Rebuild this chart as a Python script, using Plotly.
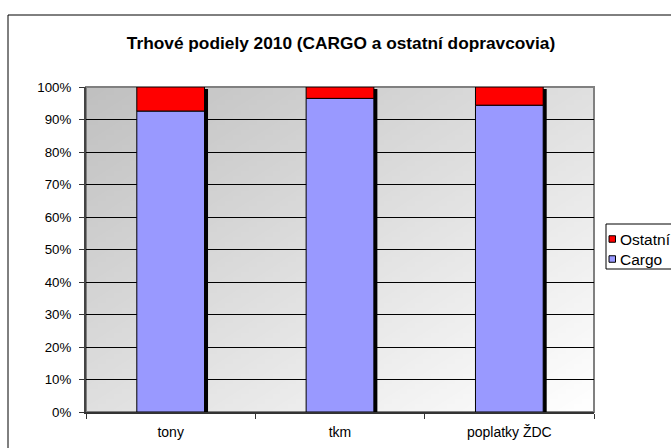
import zlib, struct, base64
import plotly.graph_objects as go

categories = ["tony", "tkm", "poplatky ŽDC"]
cargo = [92.6, 96.5, 94.4]
ostatni = [7.4, 3.5, 5.6]
series_names = ["Cargo", "Ostatní"]
series_colors = ["#9999FF", "#FF0000"]
title_text = "Trhové podiely 2010 (CARGO a ostatní dopravcovia)"
y_ticks = [0, 10, 20, 30, 40, 50, 60, 70, 80, 90, 100]
y_tick_labels = [f"{v}%" for v in y_ticks]

W, H = 671, 448
ML, MR, MT, MB = 86, 77, 87, 36
PW = W - ML - MR
PH = H - MT - MB
BAR_W = 0.40
cat_px = PW / len(categories)
shadow_dx = 3.5 / cat_px
shadow_dy = 2 / (PH / 100)
FONT = "Liberation Sans, Arial, sans-serif"


def px_x(px):
    return (px - ML) / PW


def px_y(py):
    return (MT + PH - py) / PH


def gradient_png(w=64, h=64, c0=192, c1=255):
    raw = bytearray()
    for j in range(h):
        raw.append(0)
        for i in range(w):
            t = (i / (w - 1) + j / (h - 1)) / 2
            g = int(round(c0 + (c1 - c0) * t))
            raw += bytes([g, g, g])

    def chunk(tag, data):
        return (struct.pack(">I", len(data)) + tag + data
                + struct.pack(">I", zlib.crc32(tag + data) & 0xffffffff))

    png = (b"\x89PNG\r\n\x1a\n"
           + chunk(b"IHDR", struct.pack(">IIBBBBB", w, h, 8, 2, 0, 0, 0))
           + chunk(b"IDAT", zlib.compress(bytes(raw)))
           + chunk(b"IEND", b""))
    return "data:image/png;base64," + base64.b64encode(png).decode()


totals = [c + o for c, o in zip(cargo, ostatni)]

fig = go.Figure()
# shadow behind bars
fig.add_trace(go.Bar(
    x=categories, y=[t - shadow_dy for t in totals], width=BAR_W,
    offset=-BAR_W / 2 + shadow_dx, marker=dict(color="black", line=dict(width=0)),
    showlegend=False, hoverinfo="skip"))
fig.add_trace(go.Bar(
    x=categories, y=cargo, name=series_names[0], width=BAR_W,
    marker=dict(color=series_colors[0], line=dict(color="black", width=1)),
    showlegend=False))
fig.add_trace(go.Bar(
    x=categories, y=ostatni, base=cargo, name=series_names[1], width=BAR_W,
    marker=dict(color=series_colors[1], line=dict(color="black", width=1)),
    showlegend=False))

# legend (Excel-style box at right), entries in reversed order
shapes = [
    dict(type="rect", xref="paper", yref="paper", x0=0, y0=0, x1=1, y1=1,
         line=dict(color="#808080", width=2), layer="below"),
    dict(type="rect", xref="paper", yref="paper",
         x0=px_x(8), x1=px_x(W + 5), y0=px_y(H + 5), y1=px_y(15),
         line=dict(color="black", width=1), fillcolor="rgba(0,0,0,0)", layer="below"),
    dict(type="rect", xref="paper", yref="paper",
         x0=px_x(606), x1=px_x(W + 5), y0=px_y(269), y1=px_y(224),
         line=dict(color="black", width=1), fillcolor="white", layer="above"),
]
annotations = []
entry_y = [239, 259]
for k, idx in enumerate([1, 0]):
    cy = entry_y[k]
    shapes.append(dict(type="rect", xref="paper", yref="paper",
                       x0=px_x(609), x1=px_x(615.5), y0=px_y(cy + 3.25), y1=px_y(cy - 3.25),
                       line=dict(color="black", width=1), fillcolor=series_colors[idx],
                       layer="above"))
    annotations.append(dict(text=series_names[idx], xref="paper", yref="paper",
                            x=px_x(617.5), y=px_y(cy), xanchor="left", yanchor="middle",
                            showarrow=False, font=dict(size=15.5, family=FONT, color="black")))

fig.update_layout(
    width=W, height=H,
    margin=dict(l=ML, r=MR, t=MT, b=MB, pad=0, autoexpand=False),
    barmode="overlay",
    paper_bgcolor="white",
    plot_bgcolor="rgba(0,0,0,0)",
    font=dict(family=FONT, size=13, color="black"),
    title=dict(text="<b>" + title_text + "</b>", x=341 / W, xref="container",
               xanchor="center",
               y=1 - 43 / H, yref="container", yanchor="middle",
               font=dict(size=17.3, family=FONT, color="black")),
    showlegend=False,
    xaxis=dict(type="category", range=[-0.5, 2.5], showgrid=False,
               ticks="outside", tickson="boundaries", ticklen=5, tickcolor="#333333",
               showline=True, linecolor="#333333", linewidth=2,
               ticklabelstandoff=6,
               tickfont=dict(size=14, family=FONT, color="black")),
    yaxis=dict(range=[0, 100], tickvals=y_ticks, ticktext=y_tick_labels,
               showgrid=True, gridcolor="black", gridwidth=1, zeroline=False,
               ticks="outside", ticklen=5, tickcolor="#333333",
               showline=True, linecolor="#444444", linewidth=2,
               ticklabelstandoff=5,
               tickfont=dict(size=13.3, family=FONT, color="black")),
    images=[dict(source=gradient_png(), xref="paper", yref="paper", x=0, y=1,
                 sizex=1, sizey=1, sizing="stretch", layer="below")],
    shapes=shapes,
    annotations=annotations,
)

fig.write_html("out.html")
